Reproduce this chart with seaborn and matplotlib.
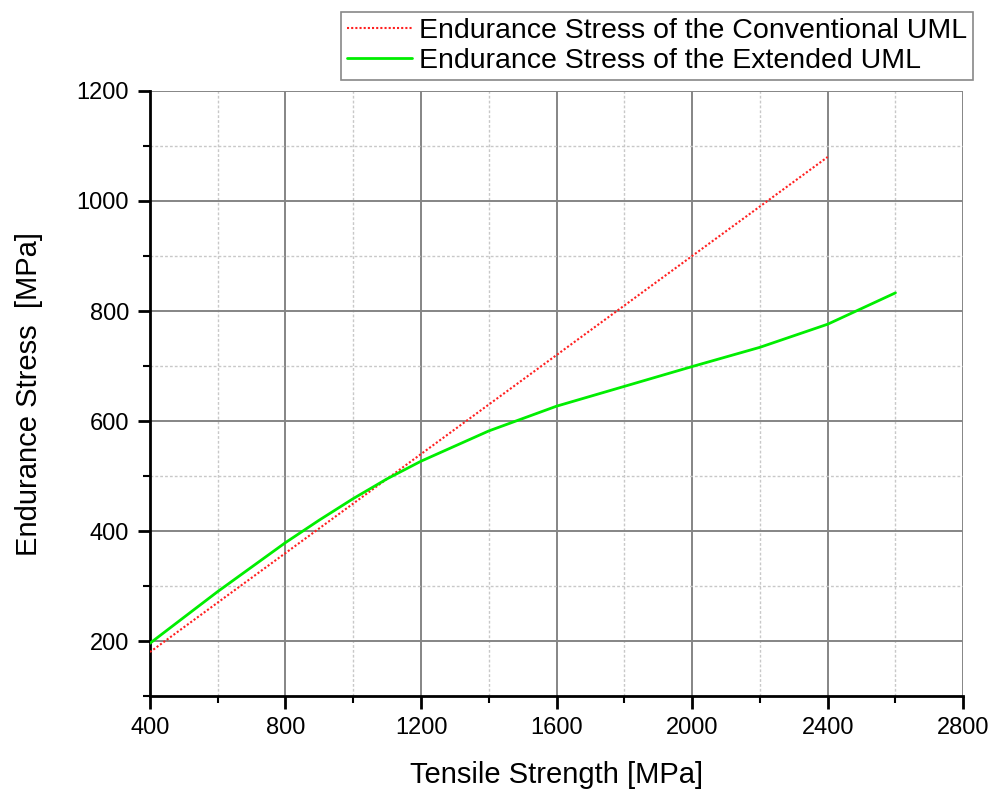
import matplotlib
matplotlib.use("Agg")
import matplotlib.pyplot as plt
import seaborn as sns
import pandas as pd
from matplotlib.ticker import MultipleLocator

# Endurance stress estimates versus tensile strength
tensile_conv = [400, 2400]
stress_conv = [180, 1080]

tensile_ext = [400, 600, 800, 900, 1000, 1100, 1200, 1400, 1600, 1800, 2000, 2200, 2400, 2600]
stress_ext = [196, 290, 379, 420, 459, 495, 527, 582, 627, 663, 699, 734, 776, 833]

label_conv = "Endurance Stress of the Conventional UML"
label_ext = "Endurance Stress of the Extended UML"

x_ticks = [400, 800, 1200, 1600, 2000, 2400, 2800]
y_ticks = [200, 400, 600, 800, 1000, 1200]

sns.set_style("white")
plt.rcParams["font.family"] = ["Liberation Sans", "DejaVu Sans"]
plt.rcParams["text.color"] = "black"
plt.rcParams["axes.labelcolor"] = "black"

df_conv = pd.DataFrame({"Rm": tensile_conv, "Se": stress_conv})
df_ext = pd.DataFrame({"Rm": tensile_ext, "Se": stress_ext})

fig = plt.figure(figsize=(9.93, 7.91), dpi=100)
ax = fig.add_axes([0.151, 0.120, 0.819, 0.765])

sns.lineplot(data=df_conv, x="Rm", y="Se", ax=ax, color="#ff2020",
             linestyle=(0, (1, 1)), linewidth=1.5, label=label_conv, zorder=3)
sns.lineplot(data=df_ext, x="Rm", y="Se", ax=ax, color="#00ee00",
             linewidth=2.0, label=label_ext, zorder=3)

ax.set_xlim(400, 2800)
ax.set_ylim(100, 1200)
ax.set_xticks(x_ticks)
ax.set_yticks(y_ticks)
ax.xaxis.set_minor_locator(MultipleLocator(200))
ax.yaxis.set_minor_locator(MultipleLocator(100))

ax.grid(True, which="major", color="#858585", linewidth=1.4, linestyle="-")
ax.grid(True, which="minor", color="#c8c8c8", linewidth=1.0, linestyle=(0, (2, 1.5)))
ax.set_axisbelow(True)

# hide gridlines that would sit on the plot border
for t in ax.xaxis.get_major_ticks():
    if t.get_loc() in (400, 2800):
        t.gridline.set_visible(False)
for t in ax.yaxis.get_major_ticks():
    if t.get_loc() in (1200,):
        t.gridline.set_visible(False)
for t in ax.yaxis.get_minor_ticks():
    if abs(t.get_loc() - 100) < 1e-6 or abs(t.get_loc() - 1200) < 1e-6:
        t.gridline.set_visible(False)

for side in ("top", "right"):
    ax.spines[side].set_visible(False)
for side in ("left", "bottom"):
    ax.spines[side].set_color("black")
    ax.spines[side].set_linewidth(2.0)

ax.tick_params(which="major", direction="out", length=9, width=2, colors="black",
               labelcolor="black", labelsize=17, left=True, bottom=True, pad=6)
ax.tick_params(which="minor", direction="out", length=5, width=1.5, colors="black",
               left=True, bottom=True)

ax.set_xlabel("Tensile Strength [MPa]", fontsize=21, labelpad=16, color="black")
ax.set_ylabel("Endurance Stress  [MPa]", fontsize=21, labelpad=24, color="black")

leg = ax.legend(loc="upper right", bbox_to_anchor=(0.980, 0.985),
                bbox_transform=fig.transFigure, fontsize=20.5, frameon=True,
                fancybox=False, edgecolor="#888888", framealpha=1,
                handlelength=2.3, handletextpad=0.25, borderpad=0.2,
                labelspacing=0.15, borderaxespad=0)
leg.get_frame().set_linewidth(1.2)
for txt in leg.get_texts():
    txt.set_color("black")

fig.savefig("out.png", dpi=100)
